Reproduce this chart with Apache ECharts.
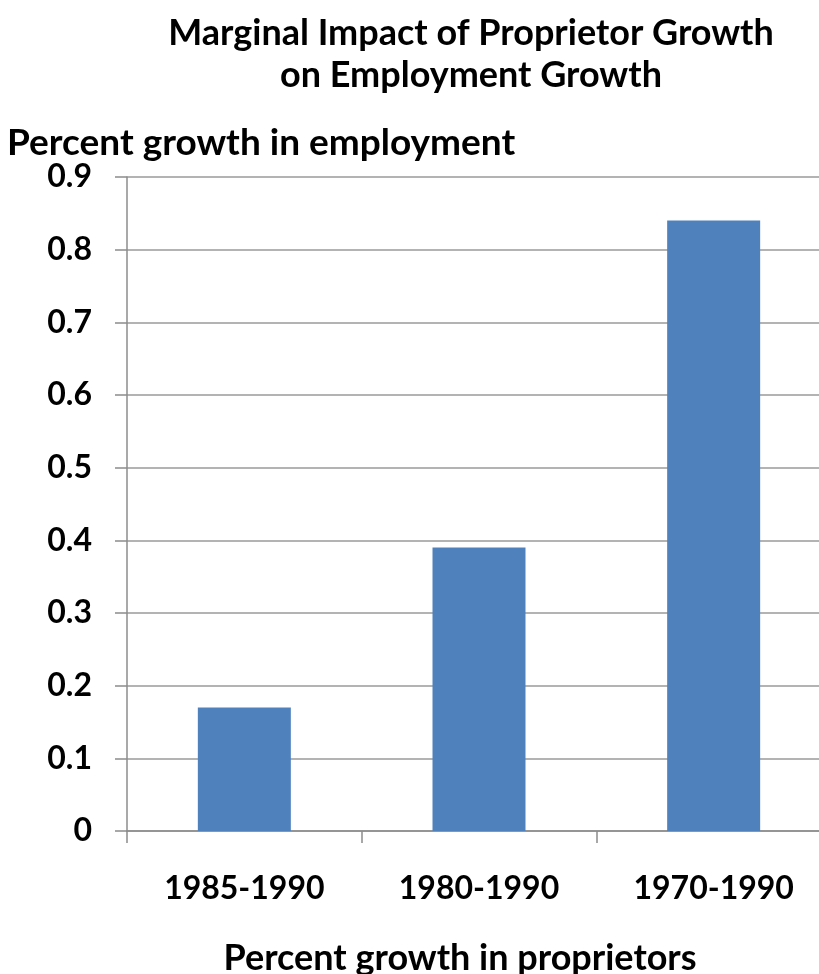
<!DOCTYPE html>
<html>
<head>
<meta charset="utf-8">
<script src="https://cdn.jsdelivr.net/npm/echarts@6/dist/echarts.min.js"></script>
<style>
  html, body { margin: 0; padding: 0; background: #fff; }
  #chart { width: 819px; height: 974px; }
</style>
</head>
<body>
<div id="chart"></div>
<script>
// Periods over which proprietor growth was measured
const periods = ['1985-1990', '1980-1990', '1970-1990'];
// Marginal effect on employment growth for each period
const impact = [0.17, 0.39, 0.84];
// Value axis range
const yMin = 0, yMax = 0.9, yStep = 0.1;

const FONT = 'Lato, "Open Sans", sans-serif';

const chart = echarts.init(document.getElementById('chart'));
chart.setOption({
  animation: false,
  title: [
    {
      text: 'Marginal Impact of Proprietor Growth\non Employment Growth',
      left: 466, top: 7, textAlign: 'center',
      textStyle: { fontFamily: FONT, fontWeight: 'bold', fontSize: 36, lineHeight: 42, color: '#000' }
    },
    {
      text: 'Percent growth in employment',
      left: 2, top: 118,
      textStyle: { fontFamily: FONT, fontWeight: 'bold', fontSize: 37, lineHeight: 40, color: '#000' }
    }
  ],
  grid: { left: 127, right: -12, top: 177, bottom: 143, outerBoundsMode: 'none' },
  xAxis: {
    type: 'category',
    data: periods,
    name: 'Percent growth in proprietors',
    nameLocation: 'middle',
    nameGap: 109,
    nameTextStyle: { fontFamily: FONT, fontWeight: 'bold', fontSize: 36, color: '#000', padding: [0, 38, 0, 0] },
    axisLine: { lineStyle: { color: '#8c8c8c', width: 1.5 } },
    axisTick: { show: true, length: 12, lineStyle: { color: '#8c8c8c', width: 1.5 } },
    axisLabel: { margin: 42, fontFamily: FONT, fontWeight: 'bold', fontSize: 32, color: '#000' }
  },
  yAxis: {
    type: 'value',
    min: yMin, max: yMax, interval: yStep,
    axisLine: { show: true, lineStyle: { color: '#8c8c8c', width: 1.5 } },
    axisTick: { show: true, length: 12, lineStyle: { color: '#8c8c8c', width: 1.5 } },
    splitLine: { lineStyle: { color: '#9a9a9a', width: 1.5 } },
    axisLabel: {
      margin: 35, fontFamily: FONT, fontWeight: 'bold', fontSize: 32, color: '#000',
      formatter: v => (v === 0 ? '0' : v.toFixed(1))
    }
  },
  series: [{
    type: 'bar',
    data: impact,
    barWidth: 93,
    itemStyle: { color: '#4F81BD' }
  }]
});
</script>
</body>
</html>
